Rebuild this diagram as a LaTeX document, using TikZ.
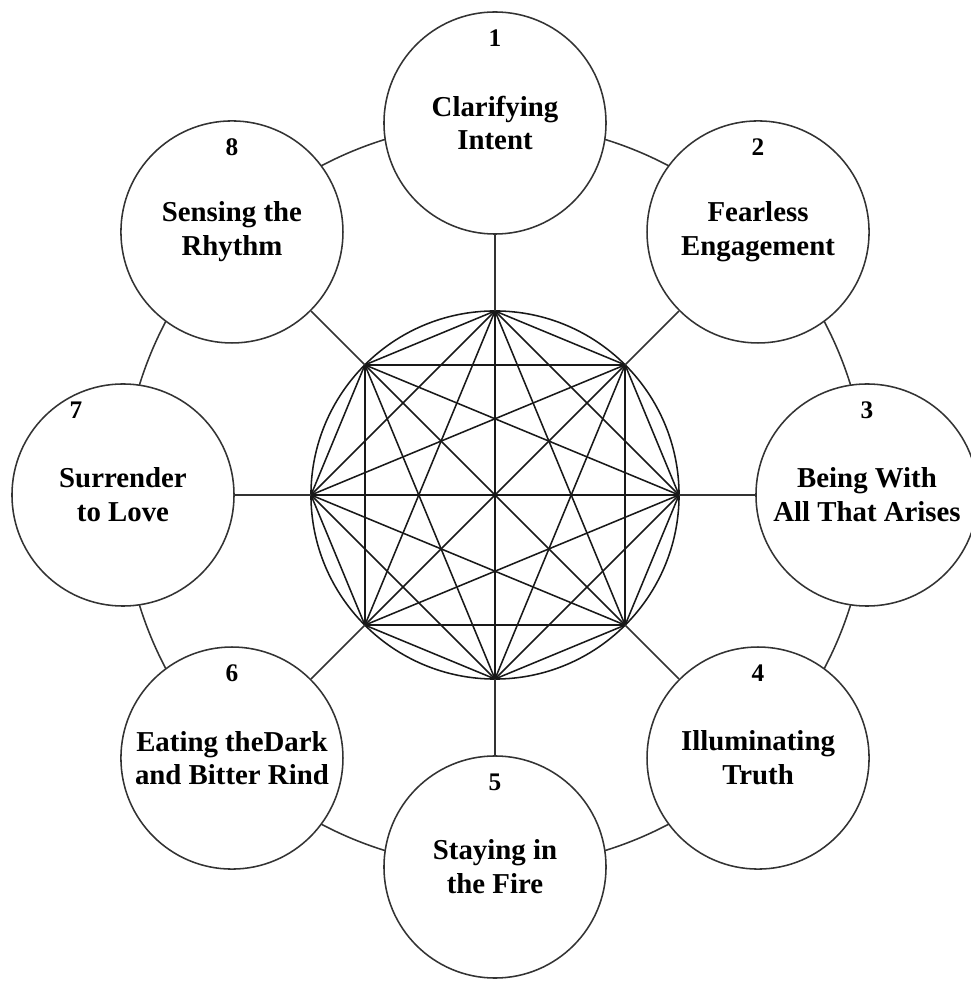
\documentclass[tikz,border=0pt]{standalone}
\usepackage{fontspec}
\setmainfont{Liberation Serif}
\usetikzlibrary{positioning, calc}

\begin{document}
\begin{tikzpicture}[x=0.025cm, y=0.025cm, line width=1.1pt]
    \tikzstyle{station} = [circle, draw=black!80, fill=white, minimum size=5.55cm, inner sep=0pt, align=center, font=\fontsize{20.5}{24}\selectfont\bfseries]
    \tikzstyle{num} = [inner sep=0pt, font=\fontsize{18}{18}\selectfont\bfseries]
    \tikzstyle{line} = [draw, black!80]

    \useasboundingbox (0,0) rectangle (971,982);
    \coordinate (hub) at (495,487);

    % outer ring and inner circle
    \node [circle, draw=black!80, minimum size=18.6cm] (ring) at (hub) {};
    \node [circle, draw=black!90, minimum size=9.2cm] (star) at (hub) {};

    % corners of the star
    \foreach \i [evaluate=\i as \ang using 135-45*\i] in {1,...,8}
        \coordinate (v\i) at ($(hub)+(\ang:184)$);
    \foreach \i in {1,...,7} {
        \pgfmathtruncatemacro\nxt{\i+1}
        \foreach \j in {\nxt,...,8}
            \path [line, black!90] (v\i) -- (v\j);
    }

    % the eight stations
    \foreach \i/\nx/\txt [evaluate=\i as \ang using 135-45*\i] in {
        1/0/Clarifying\\Intent,
        2/0/Fearless\\Engagement,
        3/0/Being With\\All That Arises,
        4/0/Illuminating\\Truth,
        5/0/Staying in\\the Fire,
        6/0/Eating theDark\\and Bitter Rind,
        7/-47/Surrender\\to Love,
        8/0/Sensing the\\Rhythm} {
        \node [station] (s\i) at ($(hub)+(\ang:372)$) {\txt};
        \node [num] (n\i) at ($(s\i)+(\nx,85)$) {\i};
        \path [line] (v\i) -- (s\i);
    }
\end{tikzpicture}
\end{document}
